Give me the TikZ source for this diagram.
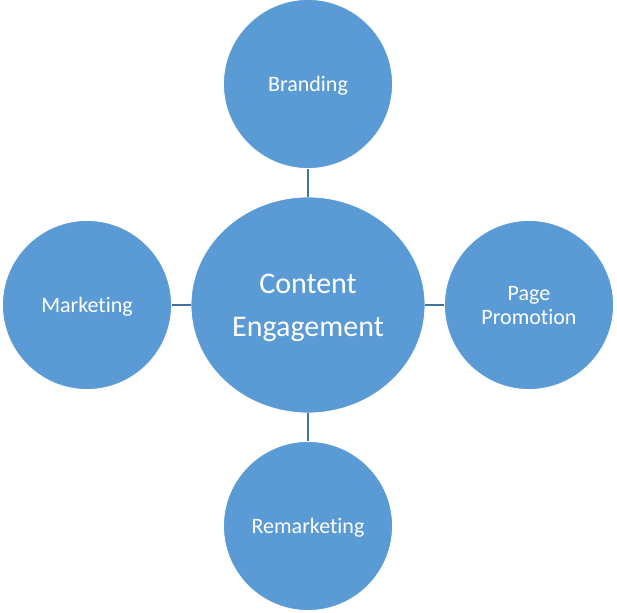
\documentclass[tikz,border=0pt]{standalone}
\usepackage{fontspec}
\setmainfont[Ligatures=NoCommon,Contextuals=NoAlternate,RawFeature={-liga;-clig;-calt}]{Carlito}
\usepackage{tikz}
\usetikzlibrary{shapes,trees}
\definecolor{bubble}{HTML}{5B9BD5}
\definecolor{stem}{HTML}{41719C}
\tikzstyle{topic}=[circle,fill=bubble,draw=white,line width=0.8pt,minimum size=169pt,inner sep=0pt,text depth=0pt,align=center,text=white,font=\fontsize{22}{24}\selectfont]
\tikzstyle{hub}=[ellipse,fill=bubble,draw=white,line width=0.8pt,minimum width=234pt,minimum height=216pt,inner sep=0pt,text depth=0pt,align=center,text=white,font=\fontsize{30}{43}\selectfont]

\begin{document}
\begin{tikzpicture}[x=1pt,y=1pt]
        \useasboundingbox (0,0) rectangle (617,612);
        \tikzstyle{level 1}=[level distance=221pt,sibling angle=90,clockwise from=90]
        \tikzstyle{edge from parent}=[draw=stem,line width=1.2pt]
        \node[hub] (engage) at (308,307) {Content\\Engagement}
        child { node[topic] (brand) {Branding} }
        child { node[topic] (promo) {Page\\Promotion} }
        child { node[topic] (remark) {Remarketing} }
        child { node[topic] (market) {Marketing} }
        ;\end{tikzpicture}
\end{document}
